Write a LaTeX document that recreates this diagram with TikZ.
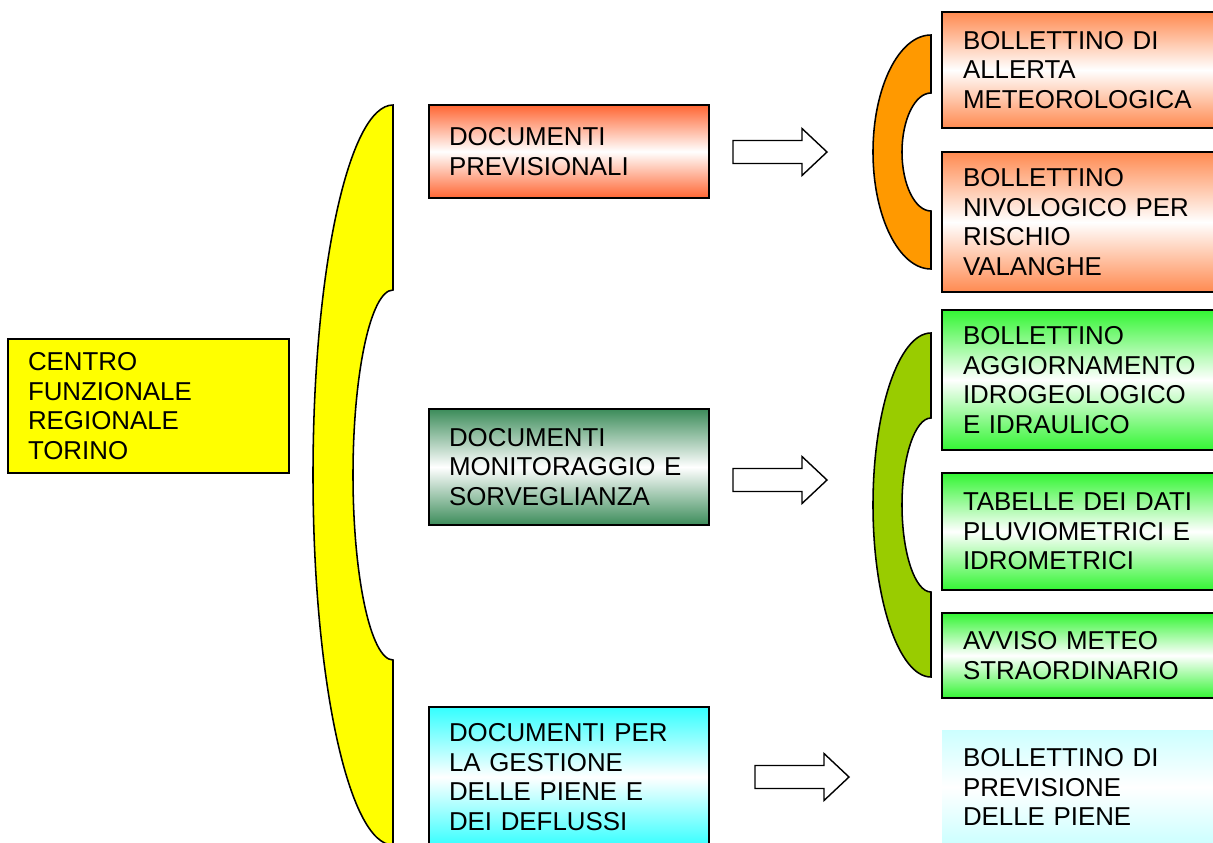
\documentclass[tikz,border=0pt]{standalone}
\usepackage{fontspec}
\setmainfont{Liberation Sans}
\usetikzlibrary{positioning}
\definecolor{cfyellow}{HTML}{FFFF00}
\definecolor{prevorange}{HTML}{FF6633}
\definecolor{bollorange}{HTML}{FF8A50}
\definecolor{brorange}{HTML}{FF9900}
\definecolor{monigreen}{HTML}{3C8C5A}
\definecolor{bollgreen}{HTML}{33F533}
\definecolor{brgreen}{HTML}{99CC00}
\definecolor{gestcyan}{HTML}{33FFFF}
\definecolor{pienecyan}{HTML}{CCFFFF}
\tikzset{
  docbox/.style={draw=black, line width=1pt, anchor=north west, outer sep=0pt, align=left,
    inner xsep=0.5cm, text width=6cm, font=\fontsize{18.4}{21}\selectfont},
  bollbox/.style={docbox, inner xsep=0.525cm, text width=6.3cm},
  grad/.style={top color=#1, bottom color=#1, middle color=white},
  bracket/.style={draw=black, line width=1.1pt},
  blockarrow/.style={draw=black, line width=1pt, fill=white}
}
% block arrow: left end x, centre y
\newcommand{\blockarr}[2]{%
  \draw[blockarrow] (#1,#2) ++(0,-11.5) -- ++(69,0) -- ++(0,-12) -- ++(25,23.5)
    -- ++(-25,23.5) -- ++(0,-12) -- ++(-69,0) -- cycle;}

\begin{document}
\begin{tikzpicture}[x=0.025cm, y=-0.025cm]
  \fill[white] (0,0) rectangle (1213,843);
  \useasboundingbox (0,0) rectangle (1213,843);
  \clip (0,0) rectangle (1213,843);

  % Centre
  \node[docbox, fill=cfyellow, text width=6.025cm, minimum height=3.35cm] (centro) at (8,339)
    {CENTRO\\FUNZIONALE\\REGIONALE\\TORINO};

  % Big bracket
  \draw[bracket, fill=cfyellow] (393,105) arc[start angle=-90, end angle=-270, x radius=80, y radius=370]
    -- (393,660) arc[start angle=90, end angle=270, x radius=40, y radius=185] -- cycle;

  % Document types
  \node[docbox, grad=prevorange, minimum height=2.325cm] (prev) at (429,105)
    {DOCUMENTI\\PREVISIONALI};
  \node[docbox, grad=monigreen, minimum height=2.9cm] (moni) at (429,409)
    {DOCUMENTI\\MONITORAGGIO E\\SORVEGLIANZA};
  \node[docbox, grad=gestcyan, minimum height=3.5cm] (gest) at (429,707)
    {DOCUMENTI PER\\LA GESTIONE\\DELLE PIENE E\\DEI DEFLUSSI};

  % Arrows
  \blockarr{733}{152}
  \blockarr{733}{480}
  \blockarr{755}{777}

  % Small brackets
  \draw[bracket, fill=brorange] (931,35) arc[start angle=-90, end angle=-270, x radius=58, y radius=117]
    -- (931,211) arc[start angle=90, end angle=270, x radius=29, y radius=59] -- cycle;
  \draw[bracket, fill=brgreen] (931,333) arc[start angle=-90, end angle=-270, x radius=58, y radius=172]
    -- (931,592) arc[start angle=90, end angle=270, x radius=29, y radius=87] -- cycle;

  % Bulletins
  \node[bollbox, grad=bollorange, minimum height=2.9cm] (allerta) at (942,12)
    {BOLLETTINO DI\\ALLERTA\\METEOROLOGICA};
  \node[bollbox, grad=bollorange, minimum height=3.5cm] (nivo) at (942,152)
    {BOLLETTINO\\NIVOLOGICO PER\\RISCHIO\\VALANGHE};
  \node[bollbox, grad=bollgreen, minimum height=3.5cm] (aggio) at (942,310)
    {BOLLETTINO\\AGGIORNAMENTO\\IDROGEOLOGICO\\E IDRAULICO};
  \node[bollbox, grad=bollgreen, minimum height=2.925cm] (tabelle) at (942,473)
    {TABELLE DEI DATI\\PLUVIOMETRICI E\\IDROMETRICI};
  \node[bollbox, grad=bollgreen, minimum height=2.125cm] (avviso) at (942,613)
    {AVVISO METEO\\STRAORDINARIO};
  \node[bollbox, draw=none, grad=pienecyan, minimum height=2.85cm] (piene) at (942,730)
    {BOLLETTINO DI\\PREVISIONE\\DELLE PIENE};
\end{tikzpicture}
\end{document}
